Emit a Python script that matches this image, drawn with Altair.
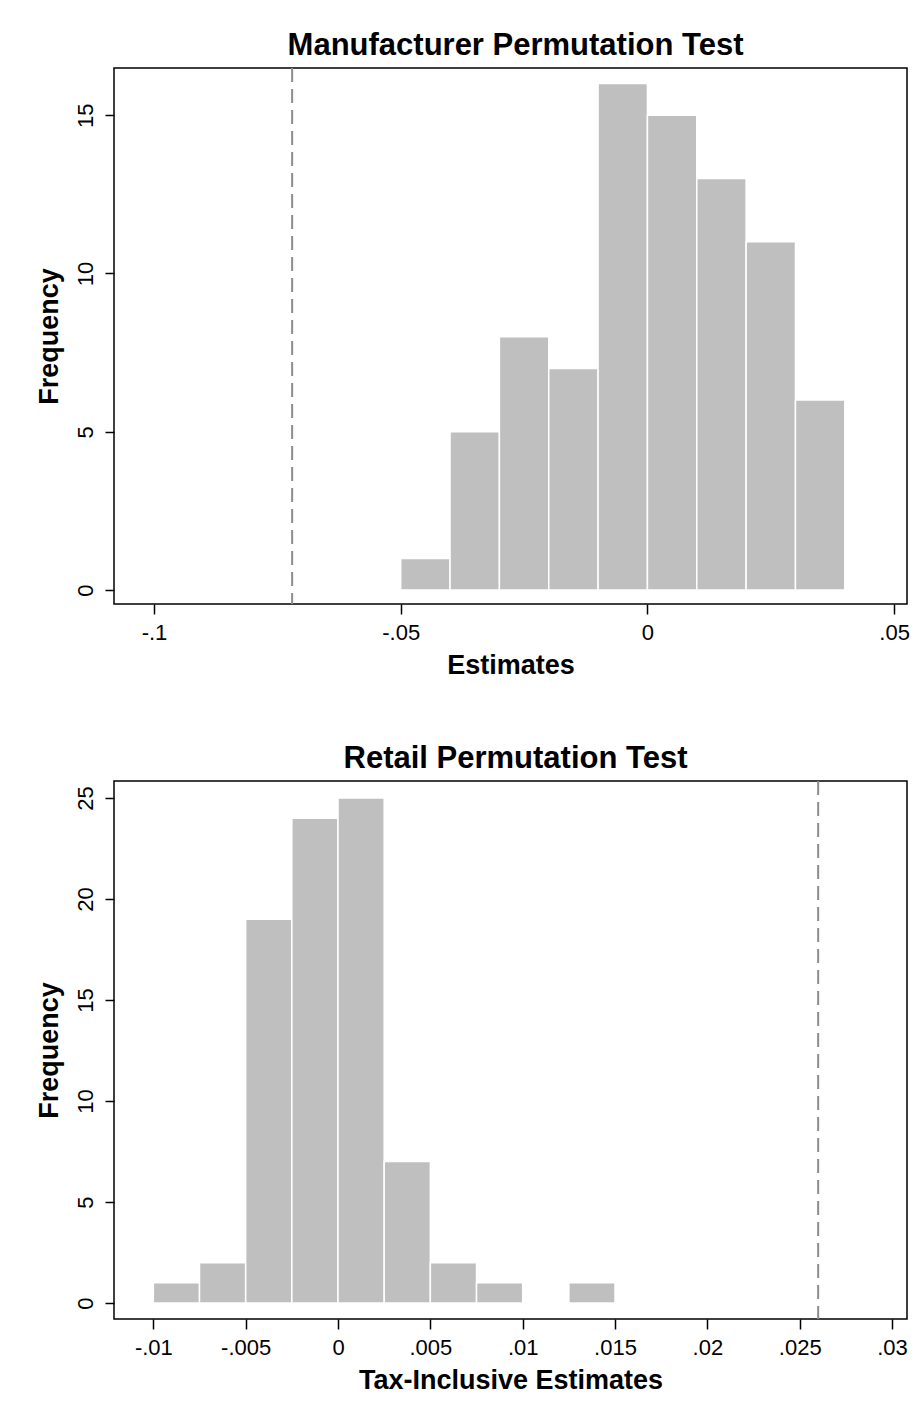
import altair as alt
import pandas as pd

FONT = "Liberation Sans"

# ---------------- data ----------------
# Manufacturer permutation test (histogram bins and frequencies)
mfr_bin_lo = [-0.05, -0.04, -0.03, -0.02, -0.01, 0.00, 0.01, 0.02, 0.03]
mfr_bin_hi = [-0.04, -0.03, -0.02, -0.01, 0.00, 0.01, 0.02, 0.03, 0.04]
mfr_freq = [1, 5, 8, 7, 16, 15, 13, 11, 6]
mfr_actual = [-0.072]
mfr_x_ticks = [-0.1, -0.05, 0, 0.05]
mfr_y_ticks = [0, 5, 10, 15]
mfr_x_domain = [-0.1081, 0.0526]
mfr_y_domain = [-0.44, 16.49]

# Retail permutation test
ret_bin_lo = [-0.01, -0.0075, -0.005, -0.0025, 0.0, 0.0025, 0.005, 0.0075, 0.0125]
ret_bin_hi = [-0.0075, -0.005, -0.0025, 0.0, 0.0025, 0.005, 0.0075, 0.01, 0.015]
ret_freq = [1, 2, 19, 24, 25, 7, 2, 1, 1]
ret_actual = [0.026]
ret_x_ticks = [-0.01, -0.005, 0, 0.005, 0.01, 0.015, 0.02, 0.025, 0.03]
ret_y_ticks = [0, 5, 10, 15, 20, 25]
ret_x_domain = [-0.01213, 0.03081]
ret_y_domain = [-0.79, 25.84]

LABEL_EXPR = "replace(toString(datum.value), regexp('^(-?)0[.]'), '$1.')"

PLOT_W = 793


def panel(title, xtitle, lo, hi, freq, actual, xdom, ydom, xticks, yticks, h):
    bars_df = pd.DataFrame({"lo": lo, "hi": hi, "freq": freq, "base": [0] * len(freq)})
    xscale = alt.Scale(domain=xdom, nice=False, zero=False)
    yscale = alt.Scale(domain=ydom, nice=False, zero=False)
    xaxis = alt.Axis(
        values=xticks, labelExpr=LABEL_EXPR, title=xtitle,
        domain=False, grid=False, ticks=True, tickSize=10, tickWidth=1.5, tickColor="#000000",
        labelFont=FONT, labelFontSize=22, labelColor="#000000", labelPadding=8,
        labelFlush=False, labelOverlap=False,
        titleFont=FONT, titleFontSize=27, titleFontWeight="bold", titleColor="#000000",
        titlePadding=9,
    )
    yaxis = alt.Axis(
        values=yticks, title="Frequency",
        domain=False, grid=False, ticks=True, tickSize=9, tickWidth=1.5, tickColor="#000000",
        labelFont=FONT, labelFontSize=22, labelColor="#000000", labelAngle=270,
        labelAlign="center", labelBaseline="alphabetic", labelPadding=13,
        labelFlush=False, labelOverlap=False,
        titleFont=FONT, titleFontSize=27, titleFontWeight="bold", titleColor="#000000",
        titlePadding=11,
    )
    bars = alt.Chart(bars_df).mark_rect(
        color="#bfbfbf", stroke="#ffffff", strokeWidth=1.5
    ).encode(
        x=alt.X("lo:Q", scale=xscale, axis=xaxis),
        x2="hi:Q",
        y=alt.Y("freq:Q", scale=yscale, axis=yaxis),
        y2="base:Q",
    )
    vline = alt.Chart(pd.DataFrame({"v": actual})).mark_rule(
        color="#8c8c8c", strokeWidth=2, strokeDash=[14, 7]
    ).encode(x=alt.X("v:Q", scale=xscale))

    return alt.layer(bars, vline).properties(
        width=PLOT_W,
        height=h,
        title=alt.TitleParams(
            text=title, font=FONT, fontSize=31, fontWeight="bold", color="#000000",
            anchor="middle", frame="group", baseline="bottom", offset=-26, dx=5,
        ),
    )


top = panel(
    "Manufacturer Permutation Test", "Estimates",
    mfr_bin_lo, mfr_bin_hi, mfr_freq, mfr_actual,
    mfr_x_domain, mfr_y_domain, mfr_x_ticks, mfr_y_ticks, 536,
)
bottom = panel(
    "Retail Permutation Test", "Tax-Inclusive Estimates",
    ret_bin_lo, ret_bin_hi, ret_freq, ret_actual,
    ret_x_domain, ret_y_domain, ret_x_ticks, ret_y_ticks, 538,
)

chart = alt.vconcat(top, bottom, spacing=63).properties(
    padding={"left": 26, "top": 21, "right": 0, "bottom": 0}, background="#ffffff"
).configure_view(
    stroke="#000000", strokeWidth=1.5, fill="#ffffff"
)

chart.save("out.html", embed_options={"renderer": "svg", "actions": False})
